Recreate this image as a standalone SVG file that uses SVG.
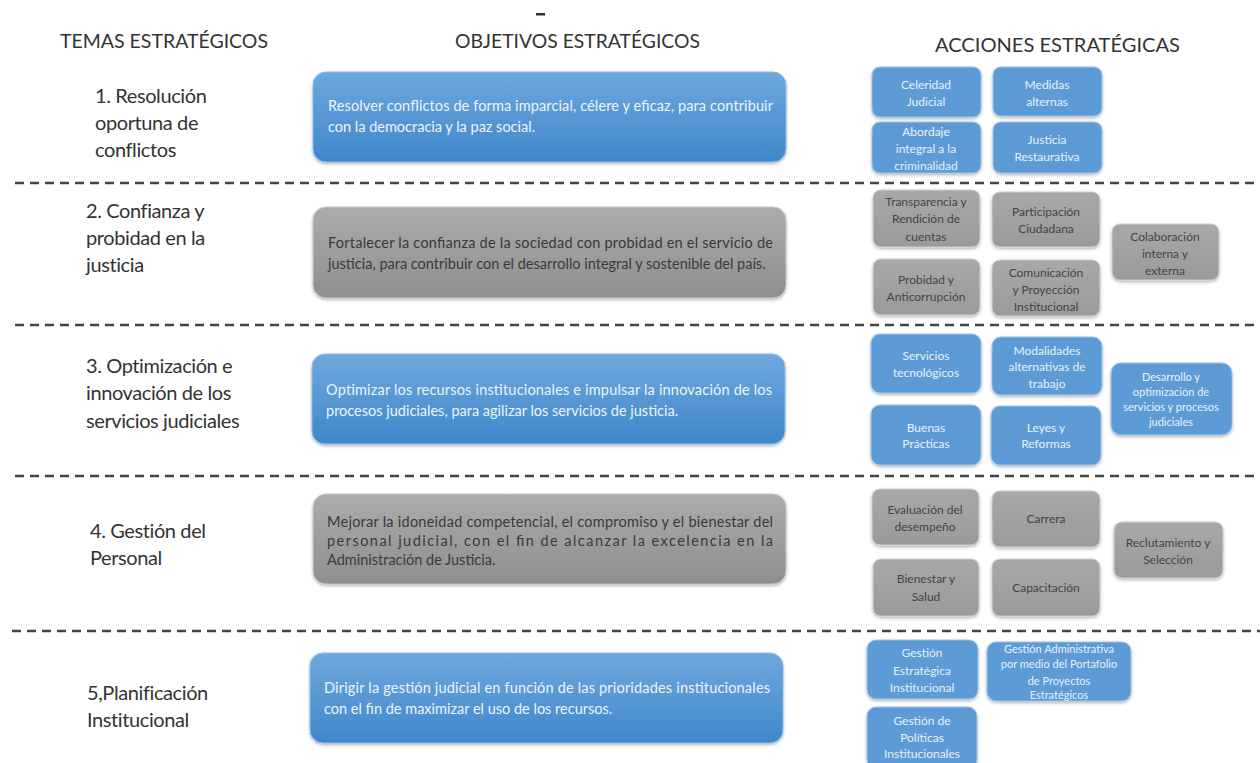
<svg xmlns="http://www.w3.org/2000/svg" width="1260" height="763" viewBox="0 0 1260 763">
<defs>
<linearGradient id="gBlue" x1="0" y1="0" x2="0" y2="1"><stop offset="0" stop-color="#6ea8de"/><stop offset="1" stop-color="#3f87ca"/></linearGradient>
<linearGradient id="gGray" x1="0" y1="0" x2="0" y2="1"><stop offset="0" stop-color="#acacac"/><stop offset="1" stop-color="#8e8e8e"/></linearGradient>
<linearGradient id="gGraySm" x1="0" y1="0" x2="0" y2="1"><stop offset="0" stop-color="#a8a8a8"/><stop offset="1" stop-color="#9a9a9a"/></linearGradient>
<filter id="sh" x="-10%" y="-10%" width="120%" height="130%"><feDropShadow dx="0" dy="1.5" stdDeviation="1.5" flood-color="#000" flood-opacity="0.3"/></filter>
</defs>
<style>
text{font-family:Lato,"Open Sans","DejaVu Sans",sans-serif}
.hdr{font-size:19px;fill:#333}
.tema{font-size:20px;fill:#333;letter-spacing:-0.4px}
.mid{font-size:14.5px}
.mw{fill:#eef4fb}
.md{fill:#3a3a3a}
.sm{font-size:12px;text-anchor:middle}
.sm2{font-size:11px;text-anchor:middle}
.bw{fill:#e8f1fa}
.bd{fill:#444}
.bigB{fill:url(#gBlue);stroke:#8bbbe6;stroke-width:1;filter:url(#sh)}
.bigG{fill:url(#gGray);stroke:#c8c8c8;stroke-width:1;filter:url(#sh)}
.smB{fill:#5b9bd5;stroke:#9cc3e8;stroke-width:1;filter:url(#sh)}
.smG{fill:url(#gGraySm);stroke:#cfcfcf;stroke-width:1;filter:url(#sh)}
.dash{stroke:#444;stroke-width:2.5;stroke-dasharray:9 6;fill:none}
</style>
<rect width="1260" height="763" fill="#fff"/>
<rect x="536" y="13" width="9" height="2.5" fill="#333"/>
<g id="headers">
<text class="hdr" x="60" y="48" textLength="208" lengthAdjust="spacingAndGlyphs">TEMAS ESTRATÉGICOS</text>
<text class="hdr" x="455" y="48" textLength="245" lengthAdjust="spacingAndGlyphs">OBJETIVOS ESTRATÉGICOS</text>
<text class="hdr" x="935" y="52" textLength="245" lengthAdjust="spacingAndGlyphs">ACCIONES ESTRATÉGICAS</text>
</g>
<g id="separators">
<line class="dash" x1="15" y1="183" x2="1260" y2="183"/>
<line class="dash" x1="15" y1="325" x2="1260" y2="325"/>
<line class="dash" x1="15" y1="476" x2="1260" y2="476"/>
<line class="dash" x1="12" y1="631" x2="1260" y2="631"/>
</g>
<g id="temas">
<text class="tema" x="95" y="103">1. Resolución</text>
<text class="tema" x="95" y="130">oportuna de</text>
<text class="tema" x="95" y="157">conflictos</text>
<text class="tema" x="86" y="218">2. Confianza y</text>
<text class="tema" x="86" y="245">probidad en la</text>
<text class="tema" x="86" y="272">justicia</text>
<text class="tema" x="86" y="373">3. Optimización e</text>
<text class="tema" x="86" y="400">innovación de los</text>
<text class="tema" x="86" y="428">servicios judiciales</text>
<text class="tema" x="90" y="538">4. Gestión del</text>
<text class="tema" x="90" y="565">Personal</text>
<text class="tema" x="87" y="700">5,Planificación</text>
<text class="tema" x="87" y="727">Institucional</text>
</g>
<g id="obj1">
<rect class="bigB" x="313" y="72" width="473" height="90" rx="13"/>
<text class="mid mw" x="328" y="111" textLength="445" lengthAdjust="spacing">Resolver conflictos de forma imparcial, célere y eficaz, para contribuir</text>
<text class="mid mw" x="328" y="132">con la democracia y la paz social.</text>
</g>
<g id="obj2">
<rect class="bigG" x="313" y="207" width="473" height="91" rx="13"/>
<text class="mid md" x="328" y="248" textLength="445" lengthAdjust="spacing">Fortalecer la confianza de la sociedad con probidad en el servicio de</text>
<text class="mid md" x="328" y="269">justicia, para contribuir con el desarrollo integral y sostenible del país.</text>
</g>
<g id="obj3">
<rect class="bigB" x="312" y="354" width="473" height="90" rx="13"/>
<text class="mid mw" x="326" y="395" textLength="446" lengthAdjust="spacing">Optimizar los recursos institucionales e impulsar la innovación de los</text>
<text class="mid mw" x="326" y="416">procesos judiciales, para agilizar los servicios de justicia.</text>
</g>
<g id="obj4">
<rect class="bigG" x="313" y="494" width="473" height="90" rx="13"/>
<text class="mid md" x="327" y="527" textLength="446" lengthAdjust="spacing">Mejorar la idoneidad competencial, el compromiso y  el bienestar del</text>
<text class="mid md" x="327" y="546" textLength="446" lengthAdjust="spacing">personal judicial, con el fin de alcanzar la excelencia en la</text>
<text class="mid md" x="327" y="565">Administración de Justicia.</text>
</g>
<g id="obj5">
<rect class="bigB" x="310" y="653" width="473" height="90" rx="13"/>
<text class="mid mw" x="324" y="693" textLength="446" lengthAdjust="spacing">Dirigir la gestión judicial en función de las prioridades institucionales</text>
<text class="mid mw" x="324" y="714">con el fin de maximizar el uso de los recursos.</text>
</g>
<g id="a-celeridad"><rect class="smB" x="872" y="67" width="109" height="50" rx="8"/><text class="sm bw" x="926" y="89">Celeridad</text><text class="sm bw" x="926" y="106">Judicial</text></g>
<g id="a-medidas"><rect class="smB" x="993" y="67" width="109" height="49" rx="8"/><text class="sm bw" x="1047" y="89">Medidas</text><text class="sm bw" x="1047" y="106">alternas</text></g>
<g id="a-abordaje"><rect class="smB" x="872" y="122" width="109" height="51" rx="8"/><text class="sm bw" x="926" y="136">Abordaje</text><text class="sm bw" x="926" y="153">integral a la</text><text class="sm bw" x="926" y="170">criminalidad</text></g>
<g id="a-justicia"><rect class="smB" x="993" y="122" width="109" height="51" rx="8"/><text class="sm bw" x="1047" y="144">Justicia</text><text class="sm bw" x="1047" y="161">Restaurativa</text></g>
<g id="a-transparencia"><rect class="smG" x="873" y="190" width="107" height="57" rx="8"/><text class="sm bd" x="926" y="206">Transparencia y</text><text class="sm bd" x="926" y="223">Rendición de</text><text class="sm bd" x="926" y="241">cuentas</text></g>
<g id="a-participacion"><rect class="smG" x="992" y="192" width="108" height="55" rx="8"/><text class="sm bd" x="1046" y="216">Participación</text><text class="sm bd" x="1046" y="233">Ciudadana</text></g>
<g id="a-colaboracion"><rect class="smG" x="1112" y="224" width="107" height="56" rx="8"/><text class="sm bd" x="1165" y="241">Colaboración</text><text class="sm bd" x="1165" y="258">interna y</text><text class="sm bd" x="1165" y="275">externa</text></g>
<g id="a-probidad"><rect class="smG" x="873" y="259" width="107" height="56" rx="8"/><text class="sm bd" x="926" y="284">Probidad y</text><text class="sm bd" x="926" y="301">Anticorrupción</text></g>
<g id="a-comunicacion"><rect class="smG" x="992" y="260" width="108" height="56" rx="8"/><text class="sm bd" x="1046" y="277">Comunicación</text><text class="sm bd" x="1046" y="294">y Proyección</text><text class="sm bd" x="1046" y="311">Institucional</text></g>
<g id="a-servicios"><rect class="smB" x="871" y="334" width="110" height="59" rx="9"/><text class="sm bw" x="926" y="360">Servicios</text><text class="sm bw" x="926" y="377">tecnológicos</text></g>
<g id="a-modalidades"><rect class="smB" x="992" y="337" width="110" height="58" rx="9"/><text class="sm bw" x="1047" y="355">Modalidades</text><text class="sm bw" x="1047" y="371">alternativas de</text><text class="sm bw" x="1047" y="388">trabajo</text></g>
<g id="a-desarrollo"><rect class="smB" x="1111" y="363" width="121" height="72" rx="10"/><text class="sm2 bw" x="1171" y="381">Desarrollo y</text><text class="sm2 bw" x="1171" y="396">optimización de</text><text class="sm2 bw" x="1171" y="411">servicios y procesos</text><text class="sm2 bw" x="1171" y="426">judiciales</text></g>
<g id="a-buenas"><rect class="smB" x="871" y="405" width="110" height="60" rx="9"/><text class="sm bw" x="926" y="432">Buenas</text><text class="sm bw" x="926" y="448">Prácticas</text></g>
<g id="a-leyes"><rect class="smB" x="991" y="406" width="110" height="59" rx="9"/><text class="sm bw" x="1046" y="432">Leyes y</text><text class="sm bw" x="1046" y="448">Reformas</text></g>
<g id="a-evaluacion"><rect class="smG" x="872" y="489" width="107" height="56" rx="8"/><text class="sm bd" x="925" y="514">Evaluación del</text><text class="sm bd" x="925" y="531">desempeño</text></g>
<g id="a-carrera"><rect class="smG" x="992" y="491" width="108" height="56" rx="8"/><text class="sm bd" x="1046" y="523">Carrera</text></g>
<g id="a-reclutamiento"><rect class="smG" x="1114" y="522" width="109" height="56" rx="8"/><text class="sm bd" x="1168" y="547">Reclutamiento y</text><text class="sm bd" x="1168" y="564">Selección</text></g>
<g id="a-bienestar"><rect class="smG" x="873" y="559" width="106" height="57" rx="8"/><text class="sm bd" x="926" y="583">Bienestar y</text><text class="sm bd" x="926" y="601">Salud</text></g>
<g id="a-capacitacion"><rect class="smG" x="992" y="559" width="108" height="57" rx="8"/><text class="sm bd" x="1046" y="592">Capacitación</text></g>
<g id="a-gestion-estrategica"><rect class="smB" x="867" y="640" width="111" height="59" rx="9"/><text class="sm bw" x="922" y="657">Gestión</text><text class="sm bw" x="922" y="675">Estratégica</text><text class="sm bw" x="922" y="692">Institucional</text></g>
<g id="a-gestion-administrativa"><rect class="smB" x="987" y="642" width="144" height="59" rx="9"/><text class="sm2 bw" x="1059" y="653">Gestión Administrativa</text><text class="sm2 bw" x="1059" y="668">por medio del Portafolio</text><text class="sm2 bw" x="1059" y="685">de Proyectos</text><text class="sm2 bw" x="1059" y="699">Estratégicos</text></g>
<g id="a-gestion-politicas"><rect class="smB" x="867" y="707" width="110" height="62" rx="9"/><text class="sm bw" x="922" y="725">Gestión de</text><text class="sm bw" x="922" y="742">Políticas</text><text class="sm bw" x="922" y="758">Institucionales</text></g>
<g id="connectors"/>
</svg>
